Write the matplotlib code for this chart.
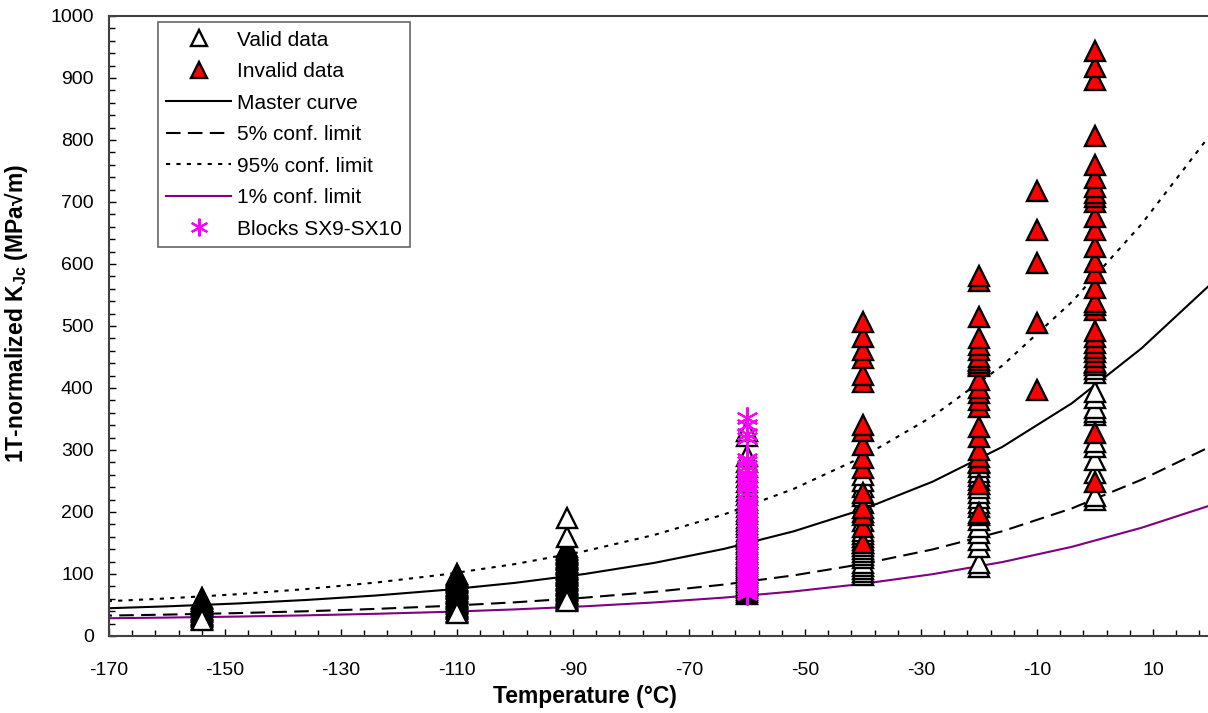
import matplotlib
matplotlib.use("Agg")
import matplotlib.pyplot as plt
from matplotlib.ticker import FixedLocator, MultipleLocator
import numpy as np

plt.rcParams['font.family'] = ['Liberation Sans', 'DejaVu Sans']
plt.rcParams['mathtext.fontset'] = 'custom'
plt.rcParams['mathtext.rm'] = 'Liberation Sans'
plt.rcParams['mathtext.bf'] = 'Liberation Sans:bold'
plt.rcParams['axes.unicode_minus'] = False

# test temperatures (deg C) and 1T-normalized KJc values (MPa*sqrt(m))
valid_temps = [-154, -110, -91, -60, -40, -20, 0]
valid_kjc = [
    [61, 59, 57, 56, 54, 52, 50, 48, 46, 44, 42, 40, 38, 36, 34, 32, 30, 28,
     26],
    [100, 98, 96, 95, 93, 91, 89, 87, 85, 83, 81, 79, 77, 75, 73, 71, 69,
     67, 65, 63, 61, 59, 57, 55, 53, 51, 49, 47, 45, 43, 41, 39, 37],
    [144, 141, 138, 136, 134, 132, 130, 128, 126, 124, 122, 120, 118, 116,
     114, 112, 110, 108, 106, 104, 102, 100, 98, 96, 94, 92, 90, 88, 86, 84,
     82, 80, 78, 76, 74, 72, 70, 68, 66, 64, 62, 60, 58, 56, 160, 190],
    [68, 71, 74, 77, 80, 83, 86, 89, 92, 95, 98, 101, 104, 107, 110, 113,
     116, 119, 122, 125, 128, 132, 136, 140, 144, 148, 152, 156, 160, 165,
     170, 175, 180, 185, 190, 196, 202, 208, 214, 220, 227, 234, 241, 248,
     256, 264, 272, 280, 290, 322, 330],
    [98, 103, 108, 113, 118, 125, 130, 135, 140, 145, 150, 155, 160, 165,
     170, 185, 200, 215, 225, 240, 250, 260],
    [111, 118, 144, 155, 166, 175, 187, 195, 208, 215, 222, 230, 238, 245,
     252, 258, 265, 273, 280, 437, 443],
    [219, 225, 263, 284, 305, 313, 356, 362, 368, 384, 394, 424, 430, 440],
]

invalid_temps = [-40, -20, -10, 0]
invalid_kjc = [
    [150, 176, 195, 206, 231, 271, 287, 308, 330, 340, 410, 421, 448, 461,
     483, 507],
    [198, 245, 279, 289, 300, 321, 337, 370, 381, 392, 400, 413, 436, 440,
     445, 450, 462, 470, 480, 515, 572, 580],
    [397, 505, 601, 655, 717],
    [249, 327, 437, 442, 450, 458, 464, 472, 483, 492, 526, 534, 539, 561,
     585, 603, 628, 655, 676, 700, 708, 715, 724, 738, 760, 806, 897, 918,
     944],
]

blocks_temp = -60
blocks_kjc = [68, 70, 73, 75, 78, 80, 83, 85, 88, 90, 93, 96, 99, 102, 105,
              108, 111, 114, 117, 120, 123, 126, 129, 132, 135, 138, 141,
              144, 147, 150, 154, 158, 162, 166, 170, 174, 178, 182, 186,
              190, 195, 200, 205, 210, 215, 220, 226, 232, 238, 244, 250,
              256, 262, 268, 274, 280, 286, 320, 325, 340, 352]

# master curve and tolerance bounds
curve_temps = [-172, -160, -148, -136, -124, -112, -100, -88, -76, -64,
               -52, -40, -28, -16, -4, 8, 20]
master = [44.2, 47.8, 52.4, 58.1, 65.3, 74.4, 85.7, 100.0, 117.9, 140.4,
          168.7, 204.3, 248.9, 304.9, 375.3, 463.8, 568.0]
conf5 = [32.6, 34.5, 36.9, 39.9, 43.7, 48.4, 54.3, 61.8, 71.2, 82.9,
         97.7, 116.3, 139.6, 168.9, 205.8, 252.0, 306.0]
conf95 = [55.3, 60.6, 67.3, 75.7, 86.2, 99.4, 116.0, 136.8, 163.0, 195.9,
          237.1, 289.0, 354.2, 436.0, 538.8, 664.0, 810.0]
conf1 = [28.4, 29.7, 31.3, 33.3, 35.8, 38.9, 42.9, 47.9, 54.1, 61.9,
         71.8, 84.2, 99.7, 119.2, 143.8, 174.5, 211.0]


def expand(temps, groups):
    x = np.concatenate([[t] * len(g) for t, g in zip(temps, groups)])
    y = np.concatenate([np.asarray(g, dtype=float) for g in groups])
    return x, y


vx, vy = expand(valid_temps, valid_kjc)
ix, iy = expand(invalid_temps, invalid_kjc)

fig = plt.figure(figsize=(12.08, 7.13), dpi=100)
ax = fig.add_axes([0.0902, 0.108, 0.9123, 0.8696])

ax.plot(vx, vy, linestyle='none', marker='^', ms=14, mfc='white',
        mec='black', mew=1.7, label='Valid data', zorder=3)
ax.plot(ix, iy, linestyle='none', marker='^', ms=14, mfc='#ff0000',
        mec='black', mew=1.7, label='Invalid data', zorder=4)
ax.plot(curve_temps, master, color='black', lw=1.5, label='Master curve',
        zorder=2)
ax.plot(curve_temps, conf5, color='black', lw=1.5, dashes=(7, 3.5),
        label='5% conf. limit', zorder=2)
ax.plot(curve_temps, conf95, color='black', lw=1.5, dashes=(2, 3),
        label='95% conf. limit', zorder=2)
ax.plot(curve_temps, conf1, color='#800080', lw=1.5,
        label='1% conf. limit', zorder=2)
ax.plot([blocks_temp] * len(blocks_kjc), blocks_kjc, linestyle='none',
        marker=(6, 2, 0), ms=16, mec='#ff00ff', mew=1.5,
        label='Blocks SX9-SX10', zorder=5)

ax.set_xlim(-170, 20)
ax.set_ylim(0, 1000)
ax.xaxis.set_major_locator(FixedLocator(np.arange(-170, 21, 20)))
ax.xaxis.set_minor_locator(FixedLocator(np.arange(-170, 21, 4)))
ax.yaxis.set_major_locator(MultipleLocator(100))
ax.yaxis.set_minor_locator(MultipleLocator(20))
ax.tick_params(which='both', direction='in', color='black', width=1)
ax.tick_params(which='major', length=5, labelsize=14)
ax.tick_params(which='minor', length=4)
ax.tick_params(axis='y', pad=11)
ax.tick_params(axis='x', pad=19)
for side in ['top', 'bottom', 'left', 'right']:
    ax.spines[side].set_color('#404040')
    ax.spines[side].set_linewidth(1.5)

ax.set_xlabel('Temperature (°C)', fontsize=16.5, fontweight='bold')
ax.set_ylabel(r'1T-normalized $\mathbf{K_{Jc}}$ (MPa√m)', fontsize=16.5,
              fontweight='bold')
ax.xaxis.set_label_coords(0.432, -0.079)
ax.yaxis.set_label_coords(-0.072, 0.52)

leg = ax.legend(loc='upper left', bbox_to_anchor=(0.0445, 0.990),
                borderaxespad=0, fontsize=15, frameon=True, fancybox=False,
                handlelength=3.1, handletextpad=0.3, labelspacing=0.6,
                borderpad=0.4, markerscale=0.8)
leg.get_frame().set_edgecolor('#404040')
leg.get_frame().set_linewidth(1.2)

fig.savefig('out.png', dpi=100, facecolor='white')
